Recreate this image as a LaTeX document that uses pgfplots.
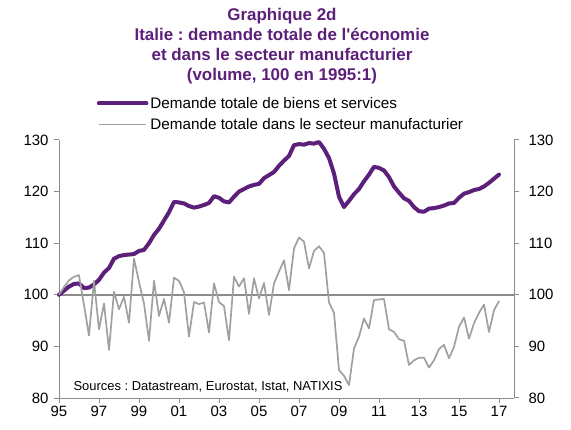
\documentclass[border=0pt]{standalone}
\usepackage{pgfplots}
\pgfplotsset{compat=1.18}
\usepackage{pgfplotstable}
\usepackage{fontspec}
\setmainfont{Liberation Sans}
\frenchspacing
\definecolor{nxpurple}{RGB}{92,32,122}
\definecolor{nxgrey}{RGB}{160,160,160}
\definecolor{axgrey}{RGB}{140,140,140}

\pgfplotstableread{
t d m
1995.00 100.0 100.0
1995.25 100.8 101.5
1995.50 101.6 102.8
1995.75 102.1 103.5
1996.00 102.2 103.8
1996.25 101.3 98.0
1996.50 101.4 92.1
1996.75 102.0 102.7
1997.00 102.9 93.3
1997.25 104.3 98.3
1997.50 105.2 89.3
1997.75 107.0 100.6
1998.00 107.5 97.2
1998.25 107.7 99.6
1998.50 107.8 94.6
1998.75 107.9 107.0
1999.00 108.5 102.5
1999.25 108.7 98.3
1999.50 110.0 91.1
1999.75 111.6 102.7
2000.00 112.8 95.9
2000.25 114.4 99.2
2000.50 116.0 94.6
2000.75 118.0 103.3
2001.00 117.9 102.7
2001.25 117.7 100.5
2001.50 117.2 91.9
2001.75 116.9 98.6
2002.00 117.1 98.2
2002.25 117.4 98.5
2002.50 117.8 92.7
2002.75 119.1 102.2
2003.00 118.8 98.6
2003.25 118.1 97.8
2003.50 117.9 91.2
2003.75 119.0 103.5
2004.00 120.0 101.6
2004.25 120.5 103.2
2004.50 121.0 96.3
2004.75 121.3 103.2
2005.00 121.5 99.3
2005.25 122.6 102.3
2005.50 123.2 96.1
2005.75 123.8 102.2
2006.00 125.0 104.5
2006.25 126.0 106.7
2006.50 126.9 100.9
2006.75 129.0 109.0
2007.00 129.2 111.1
2007.25 129.1 110.3
2007.50 129.4 105.1
2007.75 129.3 108.5
2008.00 129.6 109.4
2008.25 128.3 108.1
2008.50 126.5 98.5
2008.75 123.5 96.5
2009.00 119.0 85.4
2009.25 117.0 84.3
2009.50 118.2 82.5
2009.75 119.5 89.6
2010.00 120.5 91.9
2010.25 122.0 95.4
2010.50 123.3 93.5
2010.75 124.8 99.0
2011.00 124.6 99.1
2011.25 124.1 99.2
2011.50 122.8 93.3
2011.75 121.0 92.8
2012.00 119.8 91.4
2012.25 118.7 91.1
2012.50 118.2 86.4
2012.75 117.0 87.3
2013.00 116.2 87.8
2013.25 116.1 87.8
2013.50 116.7 85.9
2013.75 116.8 87.3
2014.00 117.0 89.5
2014.25 117.3 90.3
2014.50 117.7 87.7
2014.75 117.8 89.9
2015.00 118.8 93.8
2015.25 119.6 95.6
2015.50 119.9 91.5
2015.75 120.3 94.5
2016.00 120.5 96.5
2016.25 121.0 98.1
2016.50 121.7 92.8
2016.75 122.5 97.0
2017.00 123.3 98.8
}\datatab

\pgfplotsset{
  common/.style={
    at={(59bp,32bp)}, anchor=south west,
    scale only axis, width=455bp, height=258bp,
    xmin=1995, xmax=2017.75, ymin=80, ymax=130,
    ytick={80,90,...,130},
    tick align=outside, major tick length=5bp,
    tick style={axgrey, line width=1bp},
    axis line style={axgrey, line width=1bp},
    ticklabel style={font=\fontsize{15}{18}\selectfont, text=black},
    /pgf/number format/assume math mode=true,
  }
}

\begin{document}
\begin{tikzpicture}
\path (0,0) rectangle (571bp,430bp);
\begin{axis}[
  common,
  axis x line*=bottom, axis y line*=left,
  yticklabel style={xshift=-2bp},
  xtick={1995,1997,...,2017},
  xticklabels={95,97,99,01,03,05,07,09,11,13,15,17},
  clip=false,
  legend style={at={(rel axis cs:0.083,1.1745)}, anchor=north west, draw=none, fill=none,
    font=\fontsize{15.3}{18}\selectfont, row sep=4.5bp, inner sep=0pt},
  legend cell align=left,
  legend image code/.code={\draw[#1] (0bp,0bp) -- (44bp,0bp); \path (0bp,0bp) -- (47.5bp,0bp);},
]
\addplot[axgrey, line width=1.5bp, forget plot] coordinates {(1995,100) (2017.75,100)};
\addplot[nxpurple, line width=4bp, line join=round, line cap=round] table[x=t, y=d] {\datatab};
\addlegendentry{Demande totale de biens et services}
\addplot[nxgrey, line width=1.7bp, line join=round] table[x=t, y=m] {\datatab};
\addlegendentry{Demande totale dans le secteur manufacturier}
\node[anchor=base west, font=\fontsize{13}{15}\selectfont] at (axis cs:1995.55,81.5) {Sources : Datastream, Eurostat, Istat, NATIXIS};
\end{axis}
\begin{axis}[
  common,
  axis x line=none, axis y line*=right,
  yticklabel style={xshift=6bp},
]
\end{axis}
\begin{scope}[font=\fontsize{17}{20}\selectfont\bfseries, text=nxpurple]
\node[anchor=base] at (282bp,409bp) {Graphique 2d};
\node[anchor=base] at (282bp,389bp) {Italie : demande totale de l\textquotesingle économie};
\node[anchor=base] at (282bp,369bp) {et dans le secteur manufacturier};
\node[anchor=base] at (282bp,349bp) {(volume, 100 en 1995:1)};
\end{scope}
\end{tikzpicture}
\end{document}
